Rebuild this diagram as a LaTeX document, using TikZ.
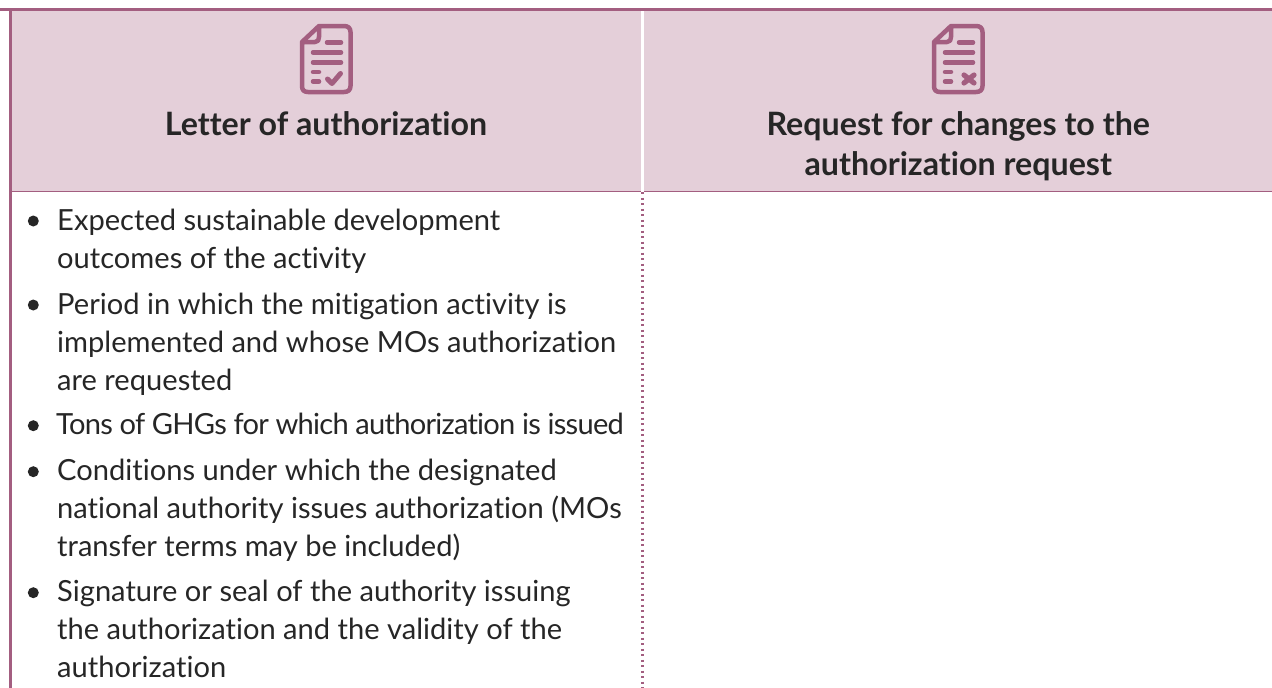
\documentclass[tikz,border=0pt]{standalone}
\usepackage{fontspec}
\setmainfont[Ligatures=NoCommon]{Lato}
\definecolor{plum}{HTML}{A35E80}
\definecolor{headbg}{HTML}{E4CFD9}
\definecolor{txt}{HTML}{262626}
\tikzset{
  px/.style={x=1pt,y=-1pt},
  headtext/.style={font=\fontsize{32.2}{40}\selectfont\bfseries,text=txt,align=center,inner sep=0pt,anchor=base},
  bodytext/.style={font=\fontsize{29.1}{38}\selectfont,text=txt,align=left,inner sep=0pt,anchor=base west},
  bulletdot/.style={circle,fill=txt,draw=none,minimum size=11pt,inner sep=0pt},
  iconline/.style={draw=plum,line width=4.5pt,line cap=round,line join=round},
}
\newcommand{\docicon}[1]{%
  \begin{scope}[shift={(#1,0)}]
    \draw[iconline] (2,42) -- (2,86) .. controls (2,90) and (4,92) .. (8,92) -- (44,92) .. controls (48,92) and (50.5,90) .. (50.5,86) -- (50.5,32) .. controls (50.5,28) and (48,26) .. (44,26) -- (19,26) -- (2,42) -- (15,42) .. controls (18,42) and (19,40) .. (19,37) -- (19,26);
    \draw[iconline] (27,42.5) -- (41,42.5);
    \draw[iconline] (13,52.5) -- (41,52.5);
    \draw[iconline] (13,62.5) -- (41,62.5);
    \draw[iconline] (13,72) -- (19,72);
    \draw[iconline] (13,81.5) -- (19,81.5);
  \end{scope}}
\begin{document}
\begin{tikzpicture}[px]
\useasboundingbox (0,0) rectangle (1272,688);
% header backgrounds
\fill[headbg] (11,10) rectangle (641,191);
\fill[headbg] (644,10) rectangle (1272,191);
% rules
\draw[plum,line width=2.8pt] (0,9.6) -- (1272,9.6);
\draw[plum,line width=3pt] (10.2,9) -- (10.2,688);
\draw[plum,line width=1.6pt] (11,191.5) -- (641,191.5);
\draw[plum,line width=1.6pt] (644,191.5) -- (1272,191.5);
\draw[plum,line width=2.7pt,dash pattern=on 2.4pt off 3.1pt] (642.7,192) -- (642.7,688);
% icons
\docicon{300}
\draw[iconline,line width=5pt] (327.5,79) -- (332,83.5) -- (340.5,73.5);
\docicon{932}
\draw[iconline,line width=5.2pt] (964,75) -- (974,83);
\draw[iconline,line width=5.2pt] (974,75) -- (964,83);
% headers
\node[headtext] (h1) at (326,135) {Letter of authorization};
\node[headtext] (h2) at (958.3,175) {Request for changes to the\\authorization request};
% bullets
\node[bulletdot] (d1) at (33.3,221) {};
\node[bodytext] (b1) at (57,268) {Expected sustainable development\\outcomes of the activity};
\node[bulletdot] (d2) at (33.3,305) {};
\node[bodytext] (b2) at (57,390) {Period in which the mitigation activity is\\implemented and whose MOs authorization\\are requested};
\node[bulletdot] (d3) at (33.3,425.7) {};
\node[bodytext,font=\fontsize{29.1}{38}\selectfont\addfontfeature{LetterSpace=-2.6}] (b3) at (56,434) {Tons of GHGs for which authorization is issued};
\node[bulletdot] (d4) at (33.3,471.7) {};
\node[bodytext] (b4) at (57,556) {Conditions under which the designated\\national authority issues authorization (MOs\\transfer terms may be included)};
\node[bulletdot] (d5) at (33.3,592.7) {};
\node[bodytext] (b5) at (57,677) {Signature or seal of the authority issuing\\the authorization and the validity of the\\authorization};
\end{tikzpicture}
\end{document}
